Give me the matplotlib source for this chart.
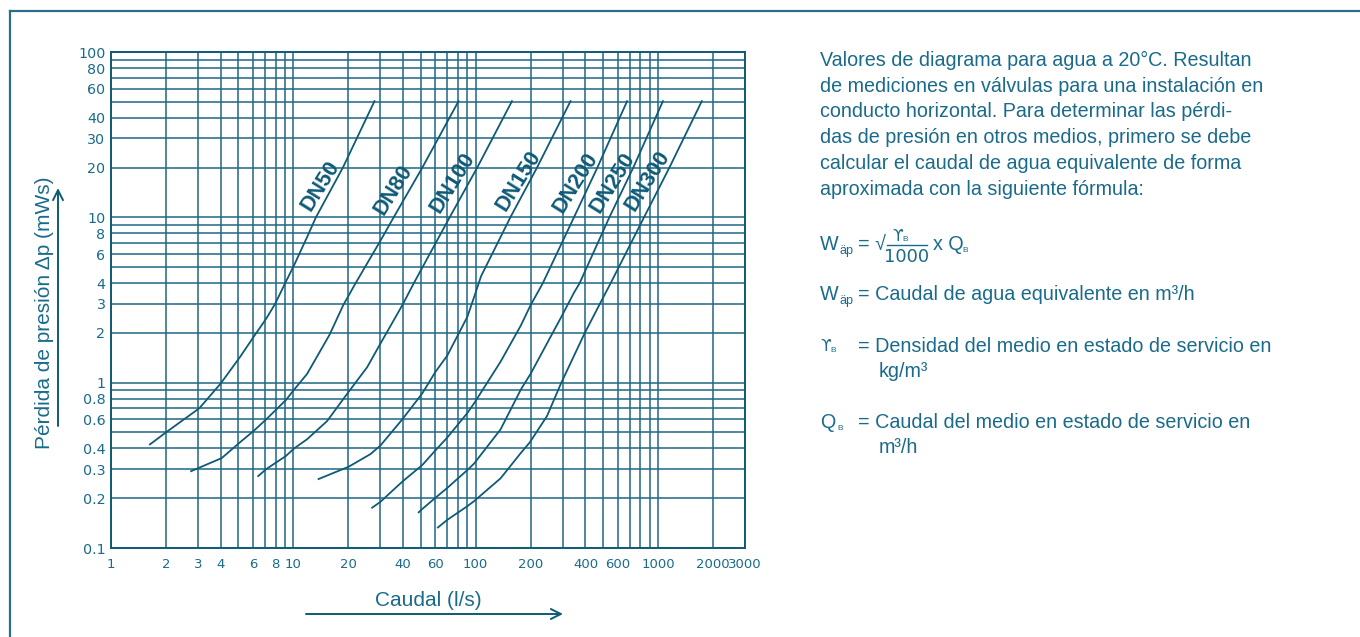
import numpy as np
import matplotlib.pyplot as plt
from matplotlib.lines import Line2D

dn50_q = [1.62, 2.0, 3.05, 4.0, 5.1, 6.05, 7.1, 7.95, 9.1, 10.1, 11.9, 13.3, 18.7, 28]
dn50_dp = [0.42, 0.5, 0.7, 0.99, 1.43, 1.89, 2.44, 3.0, 4.08, 5.14, 7.6, 10, 20, 51]

dn80_q = [2.72, 4.05, 5.1, 6.05, 7.1, 9.1, 10.2, 11.9, 15.8, 18.8, 21.9, 30, 35.5, 51, 81]
dn80_dp = [0.29, 0.35, 0.436, 0.51, 0.6, 0.785, 0.92, 1.13, 1.95, 2.95, 3.98, 7.2, 10, 20, 51]

dn100_q = [6.36, 7.1, 9.1, 10.1, 11.9, 15.3, 20.1, 25.4, 30, 39.6, 45.7, 72, 102, 159]
dn100_dp = [0.27, 0.30, 0.36, 0.40, 0.455, 0.585, 0.88, 1.24, 1.72, 2.94, 3.98, 10, 20, 51]

dn150_q = [13.6, 20.1, 26.5, 30, 39.6, 50.9, 60.1, 69.9, 90, 99, 107, 155, 217, 333]
dn150_dp = [0.26, 0.31, 0.37, 0.416, 0.6, 0.86, 1.16, 1.46, 2.5, 3.4, 4.4, 10, 20, 51]

dn200_q = [26.8, 30, 39.6, 50.9, 60.1, 69.9, 90, 98, 137, 177, 200, 233, 346, 465, 680]
dn200_dp = [0.174, 0.19, 0.252, 0.317, 0.389, 0.466, 0.655, 0.75, 1.34, 2.22, 2.94, 3.98, 10, 20, 51]

dn250_q = [48.3, 50.9, 60.1, 69.9, 90, 98, 137, 177, 200, 295, 346, 371, 541, 732, 1069]
dn250_dp = [0.163, 0.172, 0.201, 0.231, 0.296, 0.324, 0.522, 0.91, 1.13, 2.5, 3.5, 3.98, 10, 20, 51]

dn300_q = [61.5, 69.9, 90, 98, 137, 177, 198, 246, 295, 395, 497, 549, 838, 1155, 1747]
dn300_dp = [0.132, 0.148, 0.179, 0.192, 0.264, 0.376, 0.435, 0.627, 1.0, 1.98, 3.23, 3.98, 10, 20, 51]

names = ['DN50', 'DN80', 'DN100', 'DN150', 'DN200', 'DN250', 'DN300']
curves_q = [dn50_q, dn80_q, dn100_q, dn150_q, dn200_q, dn250_q, dn300_q]
curves_dp = [dn50_dp, dn80_dp, dn100_dp, dn150_dp, dn200_dp, dn250_dp, dn300_dp]
# donde va el rotulo de cada curva
label_q = [14.1, 35.5, 74.6, 173, 355, 565, 876]
label_dp = [15.5, 14.7, 16.2, 16.6, 16.2, 16.2, 16.6]

# ---- rejilla y rotulos de ejes ----
grid_x = [1, 2, 3, 4, 5, 6, 7, 8, 9, 10, 20, 30, 40, 50, 60, 70, 80, 90,
          100, 200, 300, 400, 500, 600, 700, 800, 900, 1000, 2000, 3000]
xlabels = {1: '1', 2: '2', 3: '3', 4: '4', 6: '6', 8: '8', 10: '10', 20: '20',
           40: '40', 60: '60', 100: '100', 200: '200', 400: '400', 600: '600',
           1000: '1000', 2000: '2000', 3000: '3000'}
grid_y = [0.1, 0.2, 0.3, 0.4, 0.5, 0.6, 0.7, 0.8, 0.9, 1, 2, 3, 4, 5, 6, 7, 8, 9,
          10, 20, 30, 40, 50, 60, 70, 80, 90, 100]
ylabels = {0.1: '0.1', 0.2: '0.2', 0.3: '0.3', 0.4: '0.4', 0.6: '0.6', 0.8: '0.8',
           1: '1', 2: '2', 3: '3', 4: '4', 6: '6', 8: '8', 10: '10', 20: '20',
           30: '30', 40: '40', 60: '60', 80: '80', 100: '100'}

W, H = 1360, 637
line_c = '#0f5a77'
grid_c = '#1f6783'
text_c = '#1a6b8b'

fig = plt.figure(figsize=(W / 100, H / 100), dpi=100)
ax = fig.add_axes([111 / W, 1 - 548 / H, (745 - 111) / W, (548 - 52) / H])

def px(x, y):
    return x / W, 1 - y / H

ax.set_xscale('log')
ax.set_yscale('log')
ax.set_xlim(1, 3000)
ax.set_ylim(0.1, 100)

ax.set_xticks(grid_x)
ax.set_xticklabels([xlabels.get(v, '') for v in grid_x])
ax.set_yticks(grid_y)
ax.set_yticklabels([ylabels.get(v, '') for v in grid_y])
ax.minorticks_off()
ax.tick_params(axis='both', length=0, labelcolor=text_c)
ax.tick_params(axis='x', pad=7, labelsize=9.5)
ax.tick_params(axis='y', pad=4, labelsize=10.3)
ax.grid(True, which='major', color=grid_c, linewidth=1.1)
for s in ax.spines.values():
    s.set_color(line_c)
    s.set_linewidth(1.4)

for q, dp in zip(curves_q, curves_dp):
    ax.plot(q, dp, color=line_c, linewidth=1.3, solid_capstyle='butt')

for n, lq, ld in zip(names, label_q, label_dp):
    ax.text(lq, ld, n, rotation=58, rotation_mode='anchor', ha='center', va='center',
            fontsize=15.5, fontweight='bold', family='Liberation Sans', color=line_c)

# titulos de ejes con flecha
fig.text(*px(45, 313), 'Pérdida de presión Δp (mWs)', rotation=90, ha='center', va='center',
         fontsize=15, family='Liberation Sans', color=text_c)
fig.text(*px(428, 601), 'Caudal (l/s)', ha='center', va='center',
         fontsize=15, family='Liberation Sans', color=text_c)
fig.add_artist(plt.Annotation('', xy=px(58, 188), xytext=px(58, 426), xycoords='figure fraction',
                              arrowprops=dict(arrowstyle='->', color=line_c, lw=1.4,
                                              mutation_scale=18, shrinkA=0, shrinkB=0)))
fig.add_artist(plt.Annotation('', xy=px(563, 614), xytext=px(306, 614), xycoords='figure fraction',
                              arrowprops=dict(arrowstyle='->', color=line_c, lw=1.4,
                                              mutation_scale=18, shrinkA=0, shrinkB=0)))

# marco
fig.add_artist(Line2D([10 / W, 10 / W], [0, 1 - 11 / H], color='#2b6e89', lw=1.6))
fig.add_artist(Line2D([10 / W, 1], [1 - 11 / H, 1 - 11 / H], color='#2b6e89', lw=1.6))

# ---- texto explicativo ----
tf = dict(fontsize=14.2, family='Liberation Sans', color=text_c, va='baseline')
lines = ['Valores de diagrama para agua a 20°C. Resultan',
         'de mediciones en válvulas para una instalación en',
         'conducto horizontal. Para determinar las pérdi-',
         'das de presión en otros medios, primero se debe',
         'calcular el caudal de agua equivalente de forma',
         'aproximada con la siguiente fórmula:']
for i, t in enumerate(lines):
    fig.text(*px(820, 66 + i * 25.7), t, **tf)

sf = dict(fontsize=9, family='Liberation Sans', color=text_c, va='baseline')
bf = dict(fontsize=6, family='Liberation Sans', color=text_c, va='baseline')
gf = dict(fontsize=11, family='DejaVu Sans', color=text_c, va='baseline')

# formula
fig.text(*px(820, 250), 'W', **tf)
fig.text(*px(839, 254), 'äp', **sf)
fig.text(*px(858, 250), '= √', **tf)
fig.text(*px(892, 241), 'ϒ', **gf)
fig.text(*px(902, 241), 'B', **bf)
fig.add_artist(Line2D([887 / W, 927 / W], [1 - 245 / H, 1 - 245 / H], color=text_c, lw=1.0))
fig.text(*px(907, 262), '1000', ha='center', fontsize=13, family='DejaVu Sans',
         color=text_c, va='baseline')
fig.text(*px(933, 250), 'x Q', **tf)
fig.text(*px(962, 252), 'B', **bf)

fig.text(*px(820, 300), 'W', **tf)
fig.text(*px(839, 304), 'äp', **sf)
fig.text(*px(858, 300), '= Caudal de agua equivalente en m³/h', **tf)

fig.text(*px(820, 351), 'ϒ', **gf)
fig.text(*px(830, 352), 'B', **bf)
fig.text(*px(858, 352), '= Densidad del medio en estado de servicio en', **tf)
fig.text(*px(879, 377), 'kg/m³', **tf)

fig.text(*px(820, 428), 'Q', **tf)
fig.text(*px(837, 430), 'B', **bf)
fig.text(*px(858, 428), '= Caudal del medio en estado de servicio en', **tf)
fig.text(*px(879, 453), 'm³/h', **tf)

fig.savefig('out.png', dpi=100)
